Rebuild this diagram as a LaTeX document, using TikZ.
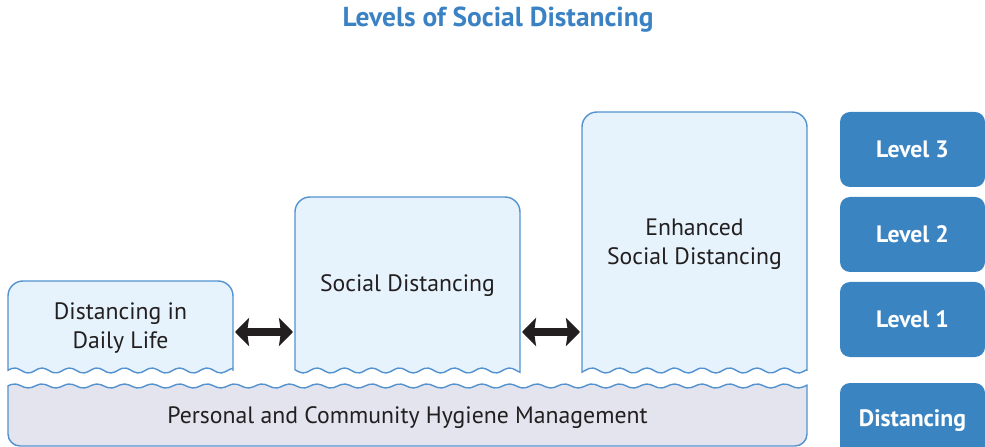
\documentclass[tikz,border=0pt]{standalone}
\usepackage{fontspec}
\setmainfont{PT Sans}
\usetikzlibrary{arrows.meta,positioning}
\definecolor{titleblue}{HTML}{3A82C4}
\definecolor{levelblue}{HTML}{3B84C2}
\definecolor{boxfill}{HTML}{E6F3FC}
\definecolor{boxline}{HTML}{5392CF}
\definecolor{basefill}{HTML}{E3E4EE}
\definecolor{inktext}{HTML}{231F20}
\tikzset{
  stagebox/.style={draw=boxline,fill=boxfill,line width=0.8pt},
  basebox/.style={draw=boxline,fill=basefill,line width=0.8pt},
  stagetext/.style={text=inktext,align=center,font=\fontsize{13.5}{16.4}\selectfont},
  levelbox/.style={fill=levelblue,rounded corners=2mm,minimum width=29mm,minimum height=15mm,
    outer sep=0pt,text=white,font=\bfseries\fontsize{13.5}{16}\selectfont},
  swaparrow/.style={{Stealth[length=2.8mm,width=5.6mm,inset=0.4mm]}-{Stealth[length=2.8mm,width=5.6mm,inset=0.4mm]},
    line width=1.5mm,draw=inktext}
}

\begin{document}
\begin{tikzpicture}[x=0.2mm,y=-0.2mm]
  \useasboundingbox (0,0) rectangle (985,447);
  \clip (0,0) rectangle (985,447);
  \node[font=\bfseries\fontsize{15.6}{19}\selectfont,text=titleblue] (title) at (498,20) {Levels of Social Distancing};
  % stage boxes, wavy bottom edge
  \foreach \xl/\xr/\yt in {8/233/281,295/520/197,582/807/112}{
    \draw[stagebox] (\xl,340) [rounded corners=3mm] -- (\xl,\yt) -- (\xr,\yt) -- (\xr,340) [sharp corners]
      -- (\xr,371) -- plot[smooth,domain=\xr:\xl,samples=60] (\x,{370.5-2.5*cos((\x-14.5)*13.0909)}) -- cycle;
  }
  % base layer
  \draw[basebox] (8,420) [rounded corners=2.4mm] -- (8,446) -- (807,446) -- (807,420) [sharp corners]
    -- (807,386) -- plot[smooth,domain=807:8,samples=200] (\x,{386-2*cos((\x-14.5)*13.0909)}) -- cycle;
  \node[stagetext] (daily) at (120.5,328) {Distancing in\\Daily Life};
  \node[stagetext] (social) at (407.5,286) {Social Distancing};
  \node[stagetext] (enhanced) at (694.5,244) {Enhanced\\Social Distancing};
  \node[stagetext] (hygiene) at (407.5,418) {Personal and Community Hygiene Management};
  \coordinate (dailyE) at (235,332);
  \coordinate (socialW) at (293,332);
  \coordinate (socialE) at (522,332);
  \coordinate (enhancedW) at (580,332);
  \draw[swaparrow] (dailyE) -- (socialW);
  \draw[swaparrow] (socialE) -- (enhancedW);
  % level markers
  \node[levelbox] (lvlthree) at (912.5,149.5) {Level 3};
  \node[levelbox,below=2mm of lvlthree] (lvltwo) {Level 2};
  \node[levelbox,below=2mm of lvltwo] (lvlone) {Level 1};
  \node[levelbox,below=5.2mm of lvlone] (lvlbase) {Distancing};
\end{tikzpicture}
\end{document}
